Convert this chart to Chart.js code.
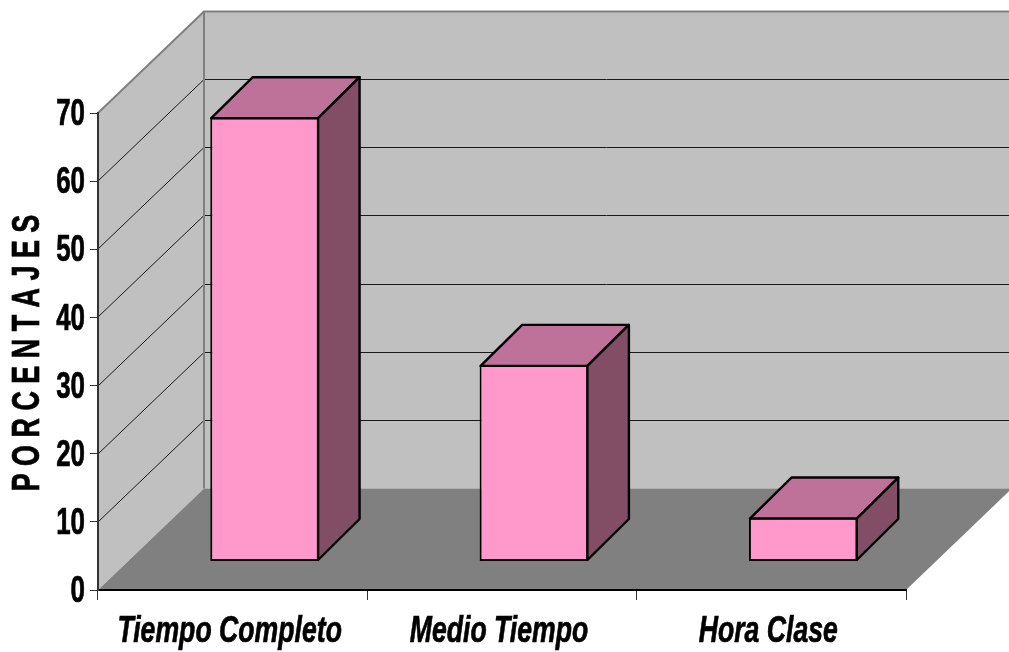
<!DOCTYPE html>
<html>
<head>
<meta charset="utf-8">
<style>
 html, body { margin: 0; padding: 0; background: #fff; }
 #box { width: 1009px; height: 652px; }
</style>
<script src="https://cdn.jsdelivr.net/npm/chart.js@4/dist/chart.umd.min.js"></script>
</head>
<body>
<div id="box"><canvas id="grafica" width="1009" height="652"></canvas></div>
<script>
const categorias = ["Tiempo Completo", "Medio Tiempo", "Hora Clase"];
const porcentajes = [65.2, 28.85, 6.45];
const tituloEje = "P O R C E N T A J E S";

const fontName = '"Liberation Sans", Arial, sans-serif';

// depth of the room and of the boxes, in pixels
const roomX = 106, roomY = 101.5;
const boxX = 41.5, boxY = 41;
const shiftX = 32, shiftY = -28.5; // boxes stand inside the floor, not on the front edge

// the labels are tall and narrow in the original, so squeeze them sideways
function narrowText(ctx, text, x, y, align, baseline, font, squeeze, angle) {
 ctx.save();
 ctx.translate(x, y);
 if (angle) ctx.rotate(angle);
 ctx.scale(squeeze, 1);
 ctx.font = font;
 ctx.fillStyle = "#000";
 ctx.strokeStyle = "#000";
 ctx.lineWidth = 0.7;
 ctx.textAlign = align;
 ctx.textBaseline = baseline;
 ctx.fillText(text, 0, 0);
 ctx.strokeText(text, 0, 0);
 ctx.restore();
}

const room3d = {
 id: "room3d",
 beforeDraw(chart) {
  const ctx = chart.ctx, xs = chart.scales.x, ys = chart.scales.y;
  const left = xs.left, right = xs.right;
  const y0 = ys.getPixelForValue(0), yTop = ys.getPixelForValue(70);
  ctx.save();

  // back wall
  ctx.fillStyle = "#c0c0c0";
  ctx.fillRect(left + roomX, yTop - roomY, chart.width - left - roomX, y0 - yTop);
  // side wall
  ctx.beginPath();
  ctx.moveTo(left, y0);
  ctx.lineTo(left, yTop);
  ctx.lineTo(left + roomX, yTop - roomY);
  ctx.lineTo(left + roomX, y0 - roomY);
  ctx.closePath();
  ctx.fill();

  // grid on both walls
  ctx.strokeStyle = "#1a1a1a";
  ctx.lineWidth = 1;
  ys.ticks.forEach(t => {
   if (t.value === 0 || t.value === 70) return;
   const p = Math.round(ys.getPixelForValue(t.value));
   ctx.beginPath();
   ctx.moveTo(left, p);
   ctx.lineTo(left + roomX, p - roomY);
   ctx.lineTo(chart.width, p - roomY);
   ctx.stroke();
  });

  // floor
  ctx.fillStyle = "#808080";
  ctx.beginPath();
  ctx.moveTo(left, y0);
  ctx.lineTo(right, y0);
  ctx.lineTo(right + roomX, y0 - roomY);
  ctx.lineTo(left + roomX, y0 - roomY);
  ctx.closePath();
  ctx.fill();

  // wall edges
  ctx.strokeStyle = "#808080";
  ctx.lineWidth = 2;
  ctx.beginPath();
  ctx.moveTo(left, yTop);
  ctx.lineTo(left + roomX, yTop - roomY);
  ctx.lineTo(chart.width, yTop - roomY);
  ctx.moveTo(left + roomX, yTop - roomY);
  ctx.lineTo(left + roomX, y0 - roomY);
  ctx.stroke();
  ctx.restore();
 },
 beforeDatasetsDraw(chart) {
  chart.ctx.save();
  chart.ctx.translate(shiftX, shiftY);
 },
 afterDatasetsDraw(chart) {
  const ctx = chart.ctx;
  ctx.lineWidth = 2.4;
  ctx.strokeStyle = "#000";
  ctx.lineJoin = "round";
  chart.getDatasetMeta(0).data.forEach(bar => {
   const r = bar.x + bar.width / 2 - 1, l = bar.x - bar.width / 2 + 1;
   const t = bar.y + 1, b = bar.base - 1;
   // top face
   ctx.fillStyle = "#bf7299";
   ctx.beginPath();
   ctx.moveTo(l, t);
   ctx.lineTo(l + boxX, t - boxY);
   ctx.lineTo(r + boxX, t - boxY);
   ctx.lineTo(r, t);
   ctx.closePath();
   ctx.fill();
   ctx.stroke();
   // side face
   ctx.fillStyle = "#824e66";
   ctx.beginPath();
   ctx.moveTo(r, t);
   ctx.lineTo(r + boxX, t - boxY);
   ctx.lineTo(r + boxX, b - boxY);
   ctx.lineTo(r, b);
   ctx.closePath();
   ctx.fill();
   ctx.stroke();
  });
  ctx.restore();
 },
 afterDraw(chart) {
  const ctx = chart.ctx, xs = chart.scales.x, ys = chart.scales.y;
  const plain = "bold 37px " + fontName;
  const slanted = "italic bold 37px " + fontName;
  ys.ticks.forEach(t => {
   narrowText(ctx, String(t.value), 85, ys.getPixelForValue(t.value) + 2, "right", "middle", plain, 0.7);
  });
  categorias.forEach((c, i) => {
   narrowText(ctx, c, xs.getPixelForTick(i) - 3, 642, "center", "alphabetic", slanted, 0.72);
  });
  narrowText(ctx, tituloEje, 39, 353, "center", "alphabetic", "bold 39px " + fontName, 0.69, -Math.PI / 2);
 }
};

new Chart(document.getElementById("grafica"), {
 type: "bar",
 data: {
  labels: categorias,
  datasets: [{
   data: porcentajes,
   backgroundColor: "#ff99cc",
   borderColor: "#000",
   borderWidth: 2,
   borderSkipped: false,
   categoryPercentage: 0.404,
   barPercentage: 1,
   clip: false
  }]
 },
 options: {
  responsive: false,
  animation: false,
  layout: { padding: { top: 113, right: 103, left: 0, bottom: 0 } },
  plugins: { legend: { display: false }, tooltip: { enabled: false } },
  scales: {
   x: {
    afterFit(scale) { scale.height = 62; },
    grid: { drawOnChartArea: false, offset: true, color: "#333", tickLength: 10 },
    border: { color: "#000", width: 2 },
    ticks: { display: false, autoSkip: false }
   },
   y: {
    min: 0,
    max: 70,
    afterFit(scale) { scale.width = 98; },
    grid: { drawOnChartArea: false, color: "#333", tickLength: 8 },
    border: { color: "#333", width: 2 },
    ticks: { display: false, stepSize: 10 }
   }
  }
 },
 plugins: [room3d]
});
</script>
</body>
</html>
